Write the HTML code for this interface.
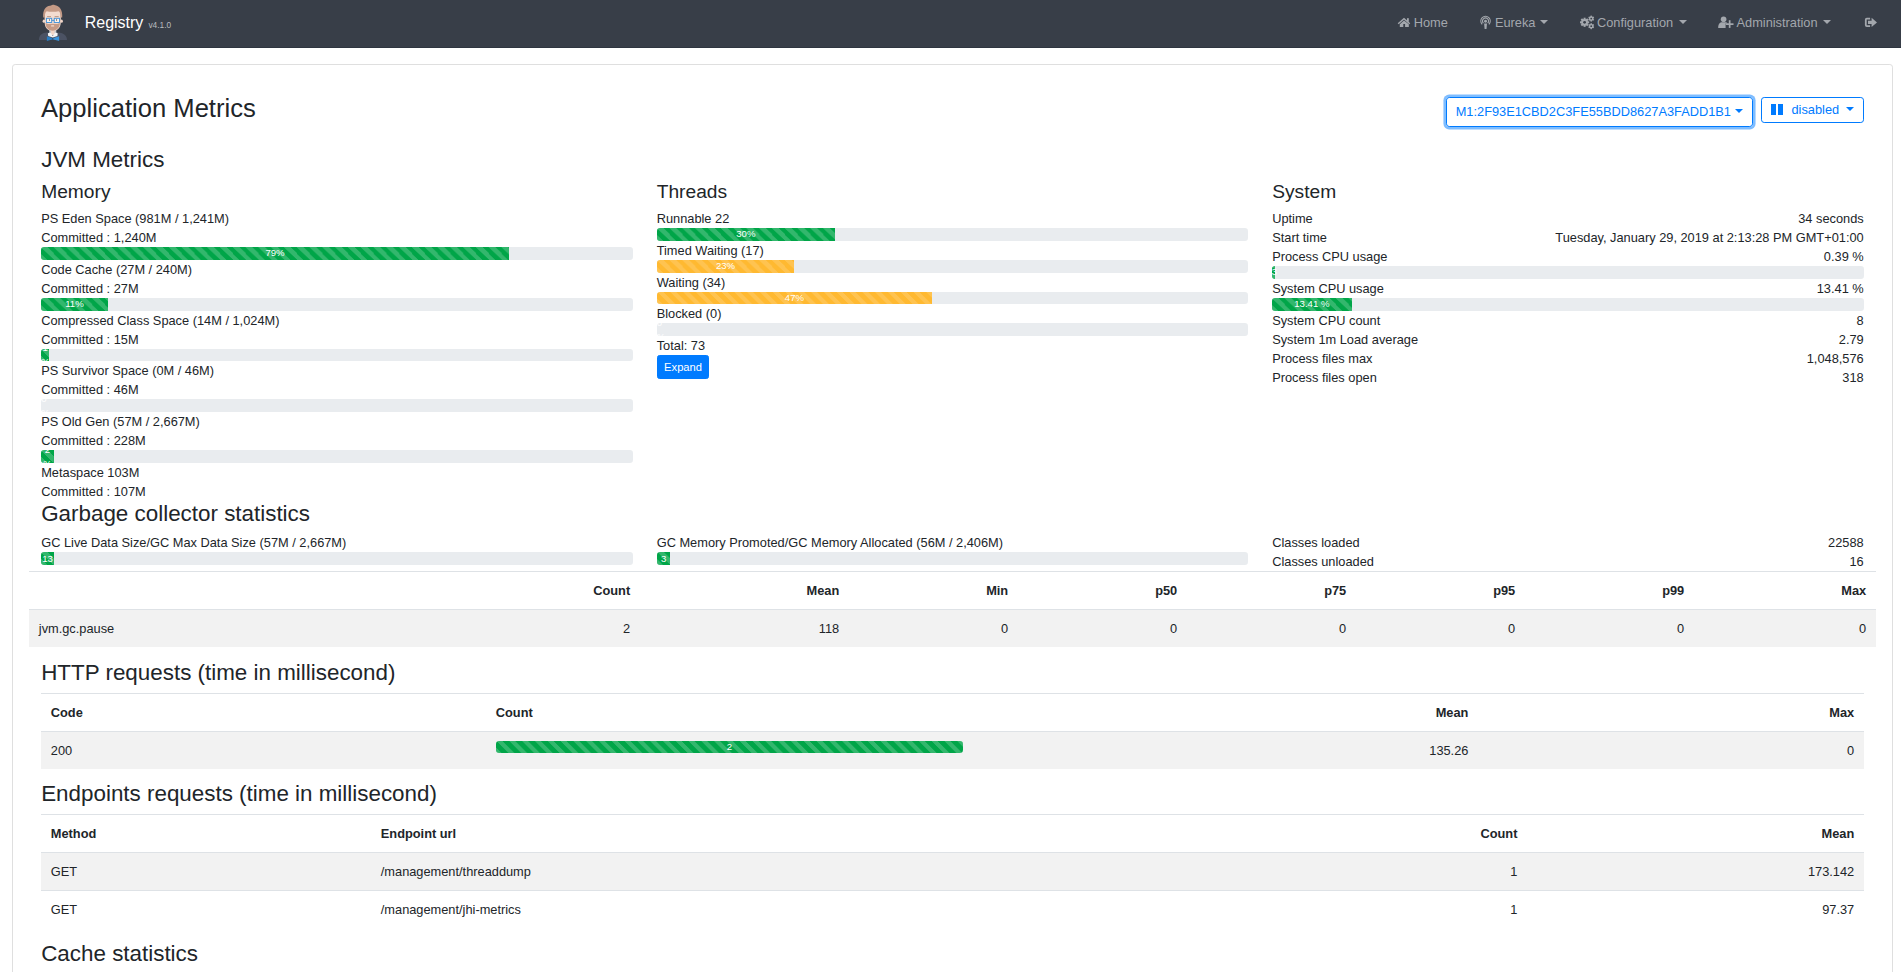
<!DOCTYPE html><html><head><meta charset="utf-8"><title>Registry - Metrics</title><style>
*{box-sizing:border-box}
html,body{margin:0;padding:0;background:#fff;overflow:hidden}
body{width:1901px;height:972px;position:relative;font-family:"Liberation Sans",sans-serif;font-size:12.8px;line-height:19px;color:#212529}
.t{position:absolute;white-space:nowrap;line-height:20px}
.nav{position:absolute;left:0;top:0;width:1901px;height:48px;background:#383e48;border-bottom:1px solid #2e3540}
.nt{color:#a3a7ad}
.card{position:absolute;left:12px;top:64px;width:1881px;height:1000px;border:1px solid #dfdfdf;border-radius:3.2px}
.col{position:absolute;width:591.5px;line-height:19px}
.progress{display:flex;height:12.8px;overflow:hidden;font-size:9.6px;line-height:14px;background:#e9ecef;border-radius:3.2px}
.pb{display:flex;flex-direction:column;justify-content:center;color:#fff;text-align:center;background-color:#00a548;background-image:linear-gradient(45deg,rgba(255,255,255,.2) 25%,transparent 25%,transparent 50%,rgba(255,255,255,.2) 50%,rgba(255,255,255,.2) 75%,transparent 75%,transparent);background-size:12.8px 12.8px}
.pb.w{background-color:#ffb931;background-image:linear-gradient(45deg,rgba(255,255,255,.15) 25%,transparent 25%,transparent 50%,rgba(255,255,255,.15) 50%,rgba(255,255,255,.15) 75%,transparent 75%,transparent)}
.pb.d{background-color:#dc3545}
.row2{display:flex;justify-content:space-between}
.hl{position:absolute;background:#dee2e6}
.stripe{position:absolute;background:#f2f2f2}
.caret{position:absolute;width:0;height:0;border-top:4.2px solid;border-left:4.2px solid transparent;border-right:4.2px solid transparent}
</style></head><body>
<div class="nav"></div>
<svg style="position:absolute;left:0;top:0" width="80" height="48" viewBox="0 0 80 48">
<path d="M38.9 40 C39 35 42 33 47 32.6 L58 32.6 C63 33 66.8 35 67 40 Z" fill="#4b5263"/>
<path d="M49.4 29.5 L56.2 29.5 L56.4 34 L49.2 34 Z" fill="#c5c8cc"/>
<rect x="51" y="29.5" width="3.6" height="5.5" fill="#f1d6c8"/>
<path d="M47.9 33.3 C49 32.7 50 32.6 50.8 33.1 L52.8 36 L54.8 33.1 C55.6 32.6 56.6 32.7 57.7 33.3 L57.4 35.9 L52.8 37.4 L48.2 35.9 Z" fill="#f4f4f4"/>
<path d="M44.6 14 C44.6 9 48 6.5 52.6 6.5 C57.4 6.5 60.8 9 60.8 14 L60.8 22 C60.8 28 57 31 52.6 31 C48 31 44.6 28 44.6 22 Z" fill="#f3dcd0"/>
<ellipse cx="43.9" cy="21.2" rx="1.3" ry="1.6" fill="#f1d6c8"/>
<ellipse cx="61.6" cy="21.2" rx="1.3" ry="1.6" fill="#f1d6c8"/>
<path d="M43.2 17.5 C42.6 10 45.5 6.2 50 5.7 C51.6 5.5 52.8 4.7 54.4 4.9 C59.6 5.6 62.8 9.8 62.2 17.5 L60.7 17.5 C60.7 14 60.1 12 58.6 11.2 C55 11.9 50 11.9 46.8 11.2 C45.3 12 44.8 14 44.8 17.5 Z" fill="#c49a86"/>
<path d="M45.5 23 L48 24.1 L52.6 23.7 L57.2 24.1 L59.9 23 C59.9 27 57.2 30.6 52.6 30.8 C48 30.6 45.5 27 45.5 23 Z" fill="#c49a86"/>
<rect x="51" y="25.3" width="3.2" height="1.3" rx=".6" fill="#f3dcd0"/>
<rect x="46.4" y="18.3" width="5.3" height="4.2" fill="#fbf1ea" stroke="#3d8fd8" stroke-width=".9"/>
<rect x="54.2" y="18.3" width="5.3" height="4.2" fill="#fbf1ea" stroke="#3d8fd8" stroke-width=".9"/>
<rect x="51.7" y="19.9" width="2.6" height=".9" fill="#3d8fd8"/>
<rect x="47.1" y="16.2" width="3.9" height=".9" fill="#b78f7a"/>
<rect x="54.6" y="16.2" width="4.1" height=".9" fill="#b78f7a"/>
<ellipse cx="49.4" cy="20" rx=".5" ry=".8" fill="#333"/>
<ellipse cx="56.6" cy="20" rx=".5" ry=".8" fill="#333"/>
<path d="M46.9 36.3 L52.8 38.3 L52.8 39.3 L46.9 41.1 Z" fill="#2a7cc2"/>
<path d="M59.1 36.3 L52.8 38.3 L52.8 39.3 L59.1 41.1 Z" fill="#3a93db"/>
<circle cx="52.8" cy="38.8" r=".7" fill="#1d4a74"/>
</svg>
<div class="t" style="top:13px;font-size:16px;left:84.7px;color:#fff;">Registry</div>
<div class="t" style="top:15px;font-size:8.4px;left:148.4px;color:#b8bbbf;">v4.1.0</div>
<svg style="position:absolute;left:1396px;top:16px" width="16" height="13" viewBox="0 0 16 13">
<path d="M2.2 7.7 L8 2.7 L13.8 7.7" fill="none" stroke="#a3a7ad" stroke-width="1.5"/>
<rect x="11" y="2.2" width="1.8" height="3.6" fill="#a3a7ad"/>
<path d="M3.8 8.2 L8 4.6 L12.8 8.2 L12.8 11 L9.1 11 L9.1 8.1 L7.3 8.1 L7.3 11 L3.8 11 Z" fill="#a3a7ad"/>
</svg>
<div class="t" style="top:13px;font-size:12.8px;left:1413.7px;color:#a3a7ad;">Home</div>
<svg style="position:absolute;left:1478px;top:14px" width="16" height="16" viewBox="0 0 16 16">
<path d="M4.2 10.3 A4.7 4.7 0 1 1 10.9 10.3" fill="none" stroke="#a3a7ad" stroke-width="1.15"/>
<path d="M5.4 9.1 A3 3 0 1 1 9.7 9.1" fill="none" stroke="#a3a7ad" stroke-width="1.05"/>
<circle cx="7.55" cy="7.2" r="1.45" fill="#a3a7ad"/>
<path d="M6.1 9.4 L9 9.4 L8.5 15 L6.6 15 Z" fill="#a3a7ad"/>
</svg>
<div class="t" style="top:13px;font-size:12.8px;left:1494.9px;color:#a3a7ad;">Eureka</div>
<div class="caret" style="left:1540.2px;top:20.2px;color:#a3a7ad"></div>
<svg style="position:absolute;left:1578px;top:14px" width="18" height="16" viewBox="0 0 18 16">
<g fill="#a3a7ad">
<circle cx="6.6" cy="8.3" r="3.4"/>
<g transform="translate(6.6 8.3)"><rect x="-1" y="-4.6" width="2" height="9.2"/><rect x="-1" y="-4.6" width="2" height="9.2" transform="rotate(45)"/><rect x="-1" y="-4.6" width="2" height="9.2" transform="rotate(90)"/><rect x="-1" y="-4.6" width="2" height="9.2" transform="rotate(135)"/></g>
<circle cx="13.2" cy="4.6" r="2.3"/>
<g transform="translate(13.2 4.6)"><rect x="-.7" y="-3" width="1.4" height="6"/><rect x="-.7" y="-3" width="1.4" height="6" transform="rotate(60)"/><rect x="-.7" y="-3" width="1.4" height="6" transform="rotate(120)"/></g>
<circle cx="13.2" cy="12.2" r="2.3"/>
<g transform="translate(13.2 12.2)"><rect x="-.7" y="-3" width="1.4" height="6"/><rect x="-.7" y="-3" width="1.4" height="6" transform="rotate(60)"/><rect x="-.7" y="-3" width="1.4" height="6" transform="rotate(120)"/></g>
</g>
<circle cx="6.6" cy="8.3" r="1.4" fill="#383e48"/>
<circle cx="13.2" cy="4.6" r=".9" fill="#383e48"/>
<circle cx="13.2" cy="12.2" r=".9" fill="#383e48"/>
</svg>
<div class="t" style="top:13px;font-size:12.8px;left:1597px;color:#a3a7ad;">Configuration</div>
<div class="caret" style="left:1679.2px;top:20.2px;color:#a3a7ad"></div>
<svg style="position:absolute;left:1716px;top:15px" width="20" height="15" viewBox="0 0 20 15">
<g fill="#a3a7ad">
<circle cx="7.6" cy="4.2" r="2.8"/>
<path d="M2.2 12.8 C2.2 9 4 7.3 6 7.3 L9.4 7.3 C10.6 7.3 11.4 7.9 11.8 8.6 L9.6 8.6 L9.6 12.9 L2.2 12.9 Z"/>
<rect x="9.8" y="8.3" width="7.7" height="1.7"/>
<rect x="12.8" y="5.2" width="1.7" height="7.7"/>
</g></svg>
<div class="t" style="top:13px;font-size:12.8px;left:1736.5px;color:#a3a7ad;">Administration</div>
<div class="caret" style="left:1823.2px;top:20.2px;color:#a3a7ad"></div>
<svg style="position:absolute;left:1863px;top:16px" width="16" height="13" viewBox="0 0 16 13">
<path d="M7.1 2.7 L3.8 2.7 C3.2 2.7 2.8 3.1 2.8 3.7 L2.8 9.1 C2.8 9.7 3.2 10.1 3.8 10.1 L7.1 10.1" fill="none" stroke="#a3a7ad" stroke-width="1.8"/>
<path d="M5 4.8 L8.6 4.8 L8.6 1.8 L14 6.45 L8.6 11.1 L8.6 8.1 L5 8.1 Z" fill="#a3a7ad"/>
</svg>
<div class="card"></div>
<div class="t" style="top:98px;font-size:25.6px;left:41px;">Application Metrics</div>
<div style="position:absolute;left:1445.6px;top:97px;width:307.6px;height:30px;border:1px solid #007bff;border-radius:3.2px;box-shadow:0 0 0 2.56px rgba(0,123,255,.5)"></div>
<div class="t" style="top:102px;font-size:12.8px;left:1455.7px;color:#007bff;">M1:2F93E1CBD2C3FE55BDD8627A3FADD1B1</div>
<div class="caret" style="left:1735px;top:109px;color:#007bff"></div>
<div style="position:absolute;left:1761px;top:97.4px;width:102.8px;height:25.2px;border:1px solid #007bff;border-radius:3.2px"></div>
<div style="position:absolute;left:1771px;top:104px;width:5px;height:10.8px;background:#007bff"></div>
<div style="position:absolute;left:1777.8px;top:104px;width:5px;height:10.8px;background:#007bff"></div>
<div class="t" style="top:100px;font-size:12.8px;left:1791.5px;color:#007bff;">disabled</div>
<div class="caret" style="left:1846.2px;top:106.6px;color:#007bff"></div>
<div class="t" style="top:150px;font-size:22.4px;left:41.2px;">JVM Metrics</div>
<div class="t" style="top:182px;font-size:19.2px;left:41.2px;">Memory</div>
<div class="t" style="top:182px;font-size:19.2px;left:656.7px;">Threads</div>
<div class="t" style="top:182px;font-size:19.2px;left:1272.2px;">System</div>
<div class="col" style="left:41.2px;top:209px">
<div>PS Eden Space (981M / 1,241M)</div><div>Committed : 1,240M</div><div class="progress"><div class="pb " style="width:79.05%">79%</div></div>
<div>Code Cache (27M / 240M)</div><div>Committed : 27M</div><div class="progress"><div class="pb " style="width:11.25%">11%</div></div>
<div>Compressed Class Space (14M / 1,024M)</div><div>Committed : 15M</div><div class="progress"><div class="pb " style="width:1.37%">1<br>%</div></div>
<div>PS Survivor Space (0M / 46M)</div><div>Committed : 46M</div><div class="progress"><div class="pb " style="width:0%">0<br>%</div></div>
<div>PS Old Gen (57M / 2,667M)</div><div>Committed : 228M</div><div class="progress"><div class="pb " style="width:2.14%">2<br>%</div></div>
<div>Metaspace 103M</div><div>Committed : 107M</div></div>
<div class="col" style="left:656.7px;top:209px">
<div>Runnable 22</div><div class="progress"><div class="pb " style="width:30.14%">30%</div></div>
<div>Timed Waiting (17)</div><div class="progress"><div class="pb w" style="width:23.29%">23%</div></div>
<div>Waiting (34)</div><div class="progress"><div class="pb w" style="width:46.58%">47%</div></div>
<div>Blocked (0)</div><div class="progress"><div class="pb d" style="width:0%">0<br>%</div></div>
<div>Total: 73</div><div style="display:inline-block;margin-top:0px;padding:4px 6.4px 2.4px;font-size:11.2px;line-height:15.4px;color:#fff;background:#007bff;border:1px solid #007bff;border-radius:2.56px">Expand</div></div>
<div class="col" style="left:1272.2px;top:209px">
<div class="row2"><span>Uptime</span><span>34 seconds</span></div><div class="row2"><span>Start time</span><span>Tuesday, January 29, 2019 at 2:13:28 PM GMT+01:00</span></div><div class="row2"><span>Process CPU usage</span><span>0.39 %</span></div><div class="progress"><div class="pb" style="width:3.3px;position:relative;overflow:visible"><span style="position:absolute;left:-0.4px;top:-1px;line-height:14px">3</span></div></div><div class="row2"><span>System CPU usage</span><span>13.41 %</span></div><div class="progress"><div class="pb " style="width:13.41%">13.41 %</div></div>
<div class="row2"><span>System CPU count</span><span>8</span></div><div class="row2"><span>System 1m Load average</span><span>2.79</span></div><div class="row2"><span>Process files max</span><span>1,048,576</span></div><div class="row2"><span>Process files open</span><span>318</span></div></div>
<div class="t" style="top:504px;font-size:22.4px;left:41.2px;">Garbage collector statistics</div>
<div class="col" style="left:41.2px;top:533px"><div>GC Live Data Size/GC Max Data Size (57M / 2,667M)</div><div class="progress"><div class="pb " style="width:2.14%"><span style="position:relative;top:1px">13</span></div></div>
</div>
<div class="col" style="left:656.7px;top:533px"><div>GC Memory Promoted/GC Memory Allocated (56M / 2,406M)</div><div class="progress"><div class="pb " style="width:2.33%"><span style="position:relative;top:1px">3</span></div></div>
</div>
<div class="col" style="left:1272.2px;top:533px"><div class="row2"><span>Classes loaded</span><span>22588</span></div><div class="row2"><span>Classes unloaded</span><span>16</span></div></div>
<div class="hl" style="left:29.2px;top:571px;width:1846.6px;height:1px"></div>
<div class="hl" style="left:29.2px;top:608.7px;width:1846.6px;height:1.6px"></div>
<div class="stripe" style="left:29.2px;top:610.3px;width:1846.6px;height:36.7px"></div>
<div class="t" style="top:581px;font-size:12.8px;right:1270.8px;text-align:right;font-weight:bold;">Count</div>
<div class="t" style="top:619px;font-size:12.8px;right:1270.8px;text-align:right;">2</div>
<div class="t" style="top:581px;font-size:12.8px;right:1061.8px;text-align:right;font-weight:bold;">Mean</div>
<div class="t" style="top:619px;font-size:12.8px;right:1061.8px;text-align:right;">118</div>
<div class="t" style="top:581px;font-size:12.8px;right:892.8px;text-align:right;font-weight:bold;">Min</div>
<div class="t" style="top:619px;font-size:12.8px;right:892.8px;text-align:right;">0</div>
<div class="t" style="top:581px;font-size:12.8px;right:723.8px;text-align:right;font-weight:bold;">p50</div>
<div class="t" style="top:619px;font-size:12.8px;right:723.8px;text-align:right;">0</div>
<div class="t" style="top:581px;font-size:12.8px;right:554.8px;text-align:right;font-weight:bold;">p75</div>
<div class="t" style="top:619px;font-size:12.8px;right:554.8px;text-align:right;">0</div>
<div class="t" style="top:581px;font-size:12.8px;right:385.79999999999995px;text-align:right;font-weight:bold;">p95</div>
<div class="t" style="top:619px;font-size:12.8px;right:385.79999999999995px;text-align:right;">0</div>
<div class="t" style="top:581px;font-size:12.8px;right:216.79999999999995px;text-align:right;font-weight:bold;">p99</div>
<div class="t" style="top:619px;font-size:12.8px;right:216.79999999999995px;text-align:right;">0</div>
<div class="t" style="top:581px;font-size:12.8px;right:34.799999999999955px;text-align:right;font-weight:bold;">Max</div>
<div class="t" style="top:619px;font-size:12.8px;right:34.799999999999955px;text-align:right;">0</div>
<div class="t" style="top:619px;font-size:12.8px;left:38.8px;">jvm.gc.pause</div>
<div class="t" style="top:663px;font-size:22.4px;left:41.2px;">HTTP requests (time in millisecond)</div>
<div class="hl" style="left:41.2px;top:693px;width:1822.6px;height:1px"></div>
<div class="hl" style="left:41.2px;top:730.8px;width:1822.6px;height:1.6px"></div>
<div class="stripe" style="left:41.2px;top:732.4px;width:1822.6px;height:36.2px"></div>
<div class="t" style="top:703px;font-size:12.8px;left:50.8px;font-weight:bold;">Code</div>
<div class="t" style="top:703px;font-size:12.8px;left:495.8px;font-weight:bold;">Count</div>
<div class="t" style="top:703px;font-size:12.8px;right:432.5999999999999px;text-align:right;font-weight:bold;">Mean</div>
<div class="t" style="top:703px;font-size:12.8px;right:46.799999999999955px;text-align:right;font-weight:bold;">Max</div>
<div class="t" style="top:741px;font-size:12.8px;left:50.8px;">200</div>
<div style="position:absolute;left:495.8px;top:741px;width:467px"><div class="progress" style="height:12px"><div class="pb" style="width:100%">2</div></div></div>
<div class="t" style="top:741px;font-size:12.8px;right:432.5999999999999px;text-align:right;">135.26</div>
<div class="t" style="top:741px;font-size:12.8px;right:46.799999999999955px;text-align:right;">0</div>
<div class="t" style="top:784px;font-size:22.4px;left:41.2px;">Endpoints requests (time in millisecond)</div>
<div class="hl" style="left:41.2px;top:814px;width:1822.6px;height:1px"></div>
<div class="hl" style="left:41.2px;top:851.7px;width:1822.6px;height:1.6px"></div>
<div class="stripe" style="left:41.2px;top:853.3px;width:1822.6px;height:37px"></div>
<div class="hl" style="left:41.2px;top:890px;width:1822.6px;height:1px"></div>
<div class="t" style="top:824px;font-size:12.8px;left:50.8px;font-weight:bold;">Method</div>
<div class="t" style="top:824px;font-size:12.8px;left:380.8px;font-weight:bold;">Endpoint url</div>
<div class="t" style="top:824px;font-size:12.8px;right:383.5999999999999px;text-align:right;font-weight:bold;">Count</div>
<div class="t" style="top:824px;font-size:12.8px;right:46.799999999999955px;text-align:right;font-weight:bold;">Mean</div>
<div class="t" style="top:862px;font-size:12.8px;left:50.8px;">GET</div>
<div class="t" style="top:862px;font-size:12.8px;left:380.8px;">/management/threaddump</div>
<div class="t" style="top:862px;font-size:12.8px;right:383.5999999999999px;text-align:right;">1</div>
<div class="t" style="top:862px;font-size:12.8px;right:46.799999999999955px;text-align:right;">173.142</div>
<div class="t" style="top:900px;font-size:12.8px;left:50.8px;">GET</div>
<div class="t" style="top:900px;font-size:12.8px;left:380.8px;">/management/jhi-metrics</div>
<div class="t" style="top:900px;font-size:12.8px;right:383.5999999999999px;text-align:right;">1</div>
<div class="t" style="top:900px;font-size:12.8px;right:46.799999999999955px;text-align:right;">97.37</div>
<div class="t" style="top:944px;font-size:22.4px;left:41.2px;">Cache statistics</div>
</body></html>
